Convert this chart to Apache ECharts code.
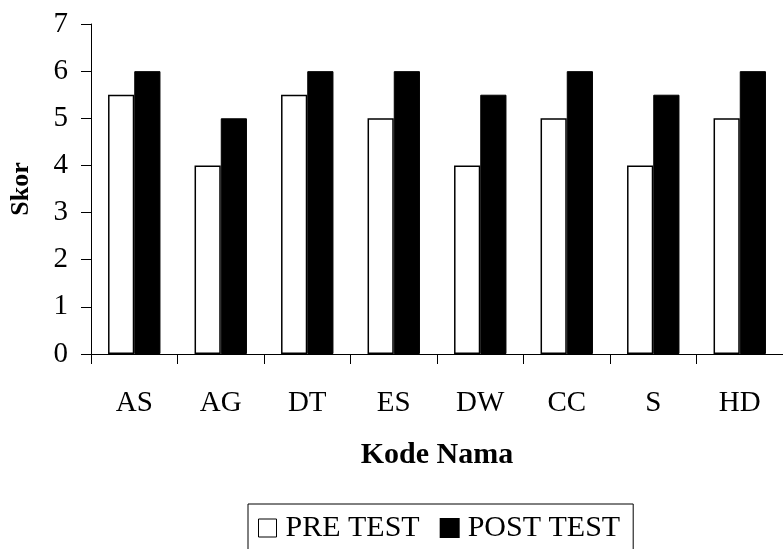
<!DOCTYPE html>
<html>
<head>
<meta charset="utf-8">
<script src="https://cdn.jsdelivr.net/npm/echarts@6/dist/echarts.min.js"></script>
<style>html,body{margin:0;padding:0;background:#fff;}#c{width:783px;height:549px;}</style>
</head>
<body>
<div id="c"></div>
<script>
var categories = ['AS','AG','DT','ES','DW','CC','S','HD'];
var preTest = [5.5, 4, 5.5, 5, 4, 5, 4, 5];
var postTest = [6, 5, 6, 6, 5.5, 6, 5.5, 6];
var yTicks = [0,1,2,3,4,5,6,7];

var FONT = "'Liberation Serif','Times New Roman',serif";
var chart = echarts.init(document.getElementById('c'));
chart.setOption({
  animation: false,
  backgroundColor: '#fff',
  textStyle: {fontFamily: FONT, color: '#000'},
  grid: {left: 90, top: 24, width: 700, height: 330, containLabel: false},
  legend: {
    left: 248, top: 504,
    itemWidth: 18, itemHeight: 18, itemGap: 20,
    padding: [9, 13, 30, 10],
    borderColor: '#000', borderWidth: 1,
    textStyle: {fontFamily: FONT, fontSize: 30, color: '#000', padding: [0,0,0,4]},
    data: [
      {name: 'PRE TEST', icon: 'rect', itemStyle: {color: '#fff', borderColor: '#000', borderWidth: 1}},
      {name: 'POST TEST', icon: 'rect', itemStyle: {color: '#000'}}
    ]
  },
  xAxis: {
    type: 'category',
    data: categories,
    name: 'Kode Nama',
    nameLocation: 'middle',
    nameGap: 86,
    nameTextStyle: {fontFamily: FONT, fontSize: 30, fontWeight: 'bold', color: '#000'},
    axisLine: {lineStyle: {color: '#000', width: 1}},
    axisTick: {show: true, length: 10, lineStyle: {color: '#000'}},
    axisLabel: {fontFamily: FONT, fontSize: 29, color: '#000', margin: 35},
    splitLine: {show: false}
  },
  yAxis: {
    type: 'value',
    min: 0, max: 7, interval: 1,
    name: 'Skor',
    nameLocation: 'middle',
    nameGap: 57,
    nameRotate: 90,
    nameTextStyle: {fontFamily: FONT, fontSize: 26, fontWeight: 'bold', color: '#000'},
    axisLine: {show: true, lineStyle: {color: '#000', width: 1}},
    axisTick: {show: true, length: 10, lineStyle: {color: '#000'}},
    axisLabel: {fontFamily: FONT, fontSize: 29, color: '#000', margin: 23,
      formatter: function(v){ return yTicks.indexOf(v) >= 0 ? String(v) : ''; }},
    splitLine: {show: false}
  },
  series: [
    {name: 'PRE TEST', type: 'bar', data: preTest, barGap: '0%', barCategoryGap: '39.4%',
     itemStyle: {color: '#fff', borderColor: '#000', borderWidth: 1.5}},
    {name: 'POST TEST', type: 'bar', data: postTest, barGap: '0%', barCategoryGap: '39.4%',
     itemStyle: {color: '#000', borderColor: '#000', borderWidth: 1}}
  ]
});
</script>
</body>
</html>
